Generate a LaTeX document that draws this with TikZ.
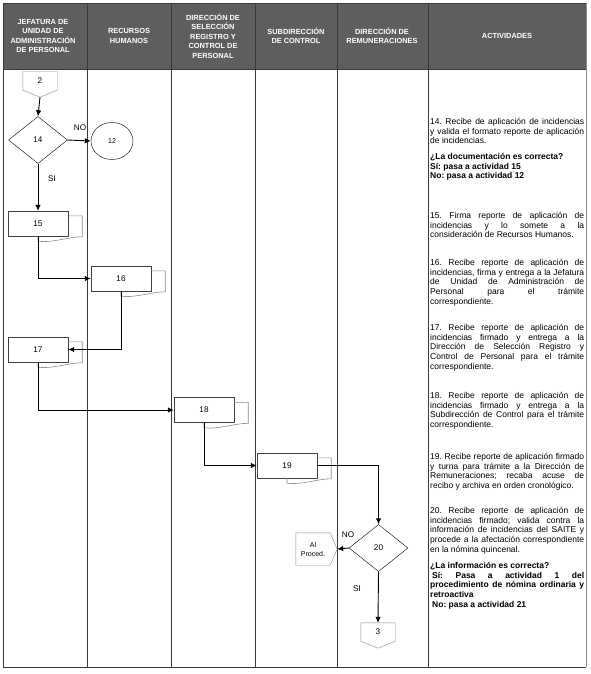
\documentclass[tikz,border=0pt]{standalone}
\usepackage{fontspec}
\setmainfont{Liberation Sans}
\usepackage{xcolor}
\definecolor{hdrGray}{HTML}{5E5E5E}
\definecolor{docGray}{HTML}{8A8A8A}
\definecolor{laneLine}{HTML}{3A3A3A}
\usetikzlibrary{arrows.meta, positioning, shapes.geometric, calc}
\hyphenpenalty=10000
\tolerance=9999
\frenchspacing

\begin{document}
\begin{tikzpicture}[x=1pt, y=-1pt,
  lane/.style={draw=laneLine, line width=0.8pt},
  hdr/.style={font=\fontsize{7.4}{9.4}\selectfont\bfseries, text=white, align=center},
  actbox/.style={draw=black!75, fill=white, minimum width=60pt, minimum height=25pt, inner sep=0pt, font=\fontsize{8.2}{9}\selectfont},
  docback/.style={draw=docGray, line width=0.6pt},
  dec/.style={diamond, draw, fill=white, minimum width=59pt, minimum height=47pt, inner sep=0pt, font=\fontsize{8.2}{9}\selectfont},
  offpage/.style={minimum width=34pt, minimum height=18pt, inner sep=0pt, font=\fontsize{8.2}{9}\selectfont},
  lbl/.style={font=\fontsize{8.2}{9}\selectfont},
  txt/.style={anchor=north west, text width=154pt, align=justify, inner sep=0pt, font=\fontsize{8.5}{9.7}\selectfont},
  arr/.style={-{Latex[length=6pt,width=5.5pt]}, line width=0.9pt},
]
  \useasboundingbox (0,0) rectangle (590,674);

  % frame and lanes
  \fill[hdrGray] (3,3) rectangle (586,69);
  \draw[lane] (586,3) -- (3,3) -- (3,667) -- (586,667);
  \draw[draw=black!45, line width=0.8pt] (586,3) -- (586,667);
  \draw[lane] (3,69) -- (586,69);
  \foreach \x in {87,171,255,337,428}
    \draw[lane] (\x,3) -- (\x,667);

  \node[hdr] (h1) at (43,36) {JEFATURA DE\\UNIDAD DE\\ADMINISTRACIÓN\\DE PERSONAL};
  \node[hdr] (h2) at (129,36) {RECURSOS\\HUMANOS};
  \node[hdr] (h3) at (213,36) {DIRECCIÓN DE\\SELECCIÓN\\REGISTRO Y\\CONTROL DE\\PERSONAL};
  \node[hdr] (h4) at (296,36) {SUBDIRECCIÓN\\DE CONTROL};
  \node[hdr] (h5) at (382,36) {DIRECCIÓN DE\\REMUNERACIONES};
  \node[hdr] (h6) at (507,36) {ACTIVIDADES};

  % flow
  \node[offpage] (c2) at (40,81) {2};
  \draw[docGray] (c2.north west) -- (c2.north east) -- (c2.south east) -- ([yshift=-7pt]c2.south) -- (c2.south west) -- cycle;
  \coordinate (c2tip) at ([yshift=-7pt]c2.south);

  \node[dec] (d14) at (38,140) {14};
  \node[ellipse, draw, minimum width=42pt, minimum height=37pt, inner sep=0pt, font=\fontsize{7}{8}\selectfont] (e12) at (112,141) {12};
  \node[lbl] (no14) at (80,128) {NO};
  \node[lbl] (si14) at (52,179) {SI};

  \node[actbox] (a15) at (38,223.5) {15};
  \node[actbox] (a16) at (121,278.5) {16};
  \node[actbox] (a17) at (38,349.5) {17};
  \node[actbox] (a18) at (204,410) {18};
  \node[actbox] (a19) at (287,465.5) {19};

  \foreach \n in {a15,a16,a17,a18,a19}
    \draw[docback] ([yshift=-5pt]\n.north east) -- ++(14,0) -- ++(0,21)
      .. controls +(-14,0) and +(14,2) .. ([yshift=-5pt]\n.south) -- (\n.south);

  \node[dec] (d20) at (378.5,548) {20};
  \node[lbl] (no20) at (348,535) {NO};
  \node[lbl] (si20) at (357,589) {SI};

  \node[minimum width=34pt, minimum height=32pt, inner sep=0pt, align=center, font=\fontsize{7}{9}\selectfont] (alp) at (313,549) {Al\\Proced.};
  \draw[docGray] (alp.north west) -- (alp.north east) -- ([xshift=7pt]alp.east) -- (alp.south east) -- (alp.south west) -- cycle;
  \coordinate (alptip) at ([xshift=7pt]alp.east);

  \node[offpage] (c3) at (378,632) {3};
  \draw[docGray] (c3.north west) -- (c3.north east) -- (c3.south east) -- ([yshift=-7pt]c3.south) -- (c3.south west) -- cycle;

  \draw[arr] (c2tip) -- (d14.north);
  \draw[arr] (d14.east) -- (e12.west);
  \draw[arr] (d14.south) -- (a15.north);
  \draw[arr] (a15.south) |- (a16.west);
  \draw[arr] (a16.south) |- (a17.east);
  \draw[arr] (a17.south) |- (a18.west);
  \draw[arr] (a18.south) |- (a19.west);
  \draw[arr] (a19.east) -| (d20.north);
  \draw[arr] (d20.west) -- (alptip);
  \draw[arr] (d20.south) -- (c3.north);

  % activities
  \node[txt] (t14) at (430,118) {14. Recibe de aplicación de incidencias\linebreak y valida el formato reporte de aplicación\linebreak de incidencias.\par\vspace{6pt}
    {\bfseries ¿La documentación es correcta?\\Sí: pasa a actividad 15\\No: pasa a actividad 12}};
  \node[txt] (t15) at (430,212) {15. Firma reporte de aplicación de\linebreak incidencias y lo somete a la\linebreak consideración de Recursos Humanos.};
  \node[txt] (t16) at (430,259) {16. Recibe reporte de aplicación de\linebreak incidencias, firma y entrega a la Jefatura\linebreak de Unidad de Administración de\linebreak Personal para el trámite\linebreak correspondiente.};
  \node[txt] (t17) at (430,324) {17. Recibe reporte de aplicación de\linebreak incidencias firmado y entrega a la\linebreak Dirección de Selección Registro y\linebreak Control de Personal para el trámite\linebreak correspondiente.};
  \node[txt] (t18) at (430,392) {18. Recibe reporte de aplicación de\linebreak incidencias firmado y entrega a la\linebreak Subdirección de Control para el trámite\linebreak correspondiente.};
  \node[txt] (t19) at (430,453) {19. Recibe reporte de aplicación firmado\linebreak y turna para trámite a la Dirección de\linebreak Remuneraciones; recaba acuse de\linebreak recibo y archiva en orden cronológico.};
  \node[txt] (t20) at (430,507) {20. Recibe reporte de aplicación de\linebreak incidencias firmado; valida contra la\linebreak información de incidencias del SAITE y\linebreak procede a la afectación correspondiente\linebreak en la nómina quincenal.\par\vspace{6.5pt}
    {\bfseries ¿La información es correcta?\par\hspace*{2pt}Sí: Pasa a actividad 1 del\linebreak procedimiento de nómina ordinaria y\linebreak retroactiva\\\hspace*{2pt}No: pasa a actividad 21}};
\end{tikzpicture}
\end{document}
